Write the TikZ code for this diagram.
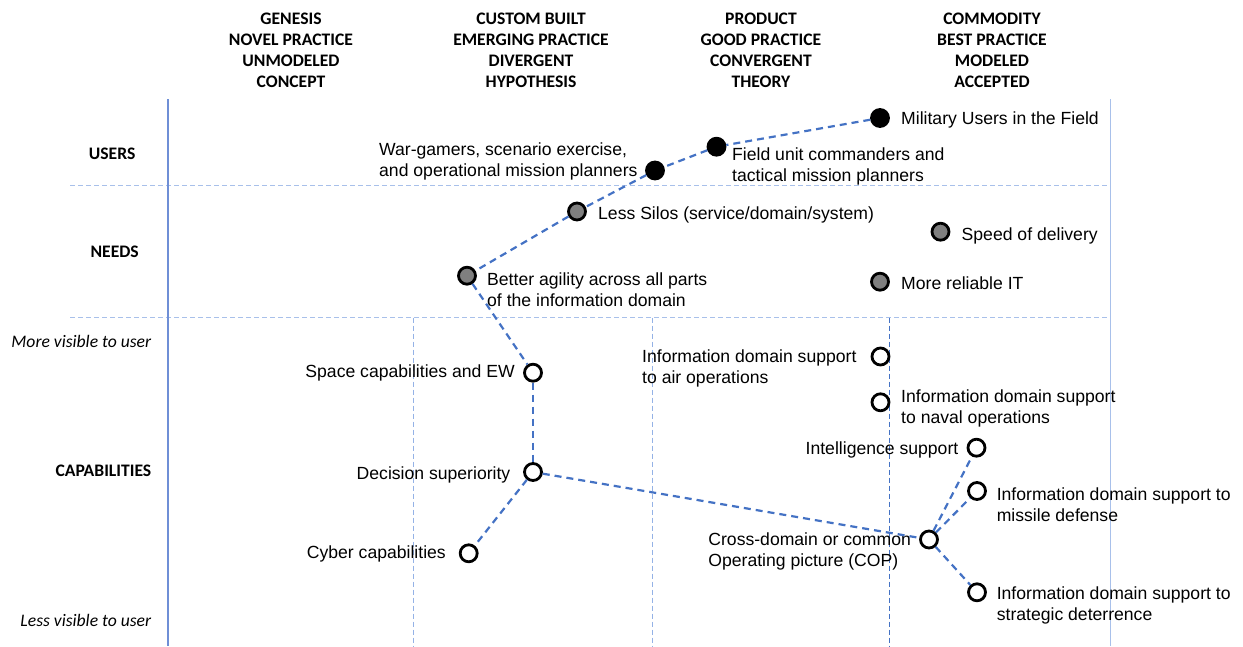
\documentclass[tikz,border=0pt]{standalone}
\usepackage{fontspec}
\setmainfont{Liberation Sans}
\newfontfamily\hdrfont{Carlito}
\definecolor{connblue}{HTML}{4472C4}
\definecolor{axisblue}{HTML}{6F8FD6}
\definecolor{lightblue}{HTML}{A8C0EA}
\definecolor{midblue}{HTML}{94B2E6}
\definecolor{needgray}{HTML}{7F7F7F}
\begin{document}
\begin{tikzpicture}[x=1pt,y=-1pt,
  lbl/.style={inner sep=0pt, font=\fontsize{17.6}{21.3}\selectfont, align=left},
  hdr/.style={inner sep=0pt, font=\hdrfont\bfseries\fontsize{17.6}{21.2}\selectfont, align=center, anchor=north},
  rowlbl/.style={inner sep=0pt, font=\hdrfont\bfseries\fontsize{17.6}{21.2}\selectfont},
  vis/.style={inner sep=0pt, font=\hdrfont\itshape\fontsize{17.6}{21.2}\selectfont, anchor=base east},
  dot/.style={circle, draw=black, line width=2.8pt, minimum size=17pt, inner sep=0pt},
  user/.style={dot, fill=black},
  need/.style={dot, fill=needgray},
  capab/.style={dot, fill=white},
  conn/.style={draw=connblue, line width=2.2pt, dash pattern=on 7pt off 5pt},
  hgrid/.style={draw=lightblue, line width=1.1pt, dash pattern=on 5pt off 3pt},
  vgrid/.style={draw=midblue, line width=1.1pt, dash pattern=on 5pt off 3pt},
  vgriddark/.style={draw=connblue, line width=1pt, dash pattern=on 5pt off 3pt}]
\useasboundingbox (0,0) rectangle (1243,646);

% grid lines
\coordinate (axT) at (168,99);
\coordinate (axB) at (168,646);
\coordinate (rbT) at (1110,99);
\coordinate (rbB) at (1110,646);
\coordinate (h1L) at (70,185.7);
\coordinate (h1R) at (1110,185.7);
\coordinate (h2L) at (70,317.7);
\coordinate (h2R) at (1110,317.7);
\coordinate (v1T) at (413.5,317.7);
\coordinate (v1B) at (413.5,646);
\coordinate (v2T) at (652.8,317.7);
\coordinate (v2B) at (652.8,646);
\coordinate (v3T) at (889.5,317.7);
\coordinate (v3B) at (889.5,646);
\draw[hgrid] (h1L) -- (h1R);
\draw[hgrid] (h2L) -- (h2R);
\draw[vgrid] (v1T) -- (v1B);
\draw[vgrid] (v2T) -- (v2B);
\draw[vgriddark] (v3T) -- (v3B);
\draw[draw=axisblue, line width=1.2pt] (axT) -- (axB);
\draw[draw=lightblue, line width=1pt] (rbT) -- (rbB);

% headers
\node[hdr] (hd1) at (291,12.6) {GENESIS\\NOVEL PRACTICE\\UNMODELED\\CONCEPT};
\node[hdr] (hd2) at (531,12.6) {CUSTOM BUILT\\EMERGING PRACTICE\\DIVERGENT\\HYPOTHESIS};
\node[hdr] (hd3) at (761,12.6) {PRODUCT\\GOOD PRACTICE\\CONVERGENT\\THEORY};
\node[hdr] (hd4) at (992,12.6) {COMMODITY\\BEST PRACTICE\\MODELED\\ACCEPTED};

% row labels
\node[rowlbl, anchor=base] (rusers) at (112.1,159) {USERS};
\node[rowlbl, anchor=base] (rneeds) at (114.7,257.4) {NEEDS};
\node[rowlbl, anchor=base east] (rcaps) at (151.4,476.7) {CAPABILITIES};
\node[vis] (more) at (151.4,347.5) {More visible to user};
\node[vis] (less) at (151.4,626.2) {Less visible to user};

% users
\node[user] (mil) at (880,118) {};
\node[user] (fld) at (716.5,146.7) {};
\node[user] (war) at (655,170.5) {};
% needs
\node[need] (sil) at (577,211.5) {};
\node[need] (spd) at (940.5,231.7) {};
\node[need] (agi) at (467,275.7) {};
\node[need] (rel) at (880,281.7) {};
% capabilities
\node[capab] (air) at (880.5,356.5) {};
\node[capab] (spc) at (533,372.7) {};
\node[capab] (nav) at (880.5,402.3) {};
\node[capab] (intl) at (976.5,447.7) {};
\node[capab] (dec) at (533,472) {};
\node[capab] (mis) at (977,491) {};
\node[capab] (cyb) at (468.7,553.3) {};
\node[capab] (cop) at (929,539.5) {};
\node[capab] (str) at (977,592.3) {};

% labels
\node[lbl, anchor=north west] (lmil) at (901,111.4) {Military Users in the Field};
\node[lbl, anchor=north west] (lfld) at (732,147.4) {Field unit commanders and\\tactical mission planners};
\node[lbl, anchor=north west] (lwar) at (379,142.7) {War-gamers, scenario exercise,\\and operational mission planners};
\node[lbl, anchor=north west] (lsil) at (598,206.6) {Less Silos (service/domain/system)};
\node[lbl, anchor=north west] (lspd) at (961.5,227.4) {Speed of delivery};
\node[lbl, anchor=north west] (lagi) at (487,272.7) {Better agility across all parts\\of the information domain};
\node[lbl, anchor=north west] (lrel) at (901,276.1) {More reliable IT};
\node[lbl, anchor=north west] (lair) at (642,349.4) {Information domain support\\to air operations};
\node[lbl, anchor=north east] (lspc) at (515,364.4) {Space capabilities and EW};
\node[lbl, anchor=north west] (lnav) at (901,389.4) {Information domain support\\to naval operations};
\node[lbl, anchor=north east] (lintl) at (958.5,441.7) {Intelligence support};
\node[lbl, anchor=north east] (ldec) at (510.5,466.7) {Decision superiority};
\node[lbl, anchor=north west] (lmis) at (996.6,487.4) {Information domain support to\\missile defense};
\node[lbl, anchor=north east] (lcyb) at (446,545.1) {Cyber capabilities};
\node[lbl, anchor=north west] (lcop) at (708.2,532.7) {Cross-domain or common\\Operating picture (COP)};
\node[lbl, anchor=north west] (lstr) at (996.6,586.7) {Information domain support to\\strategic deterrence};

% connectors
\draw[conn] (mil) -- (fld);
\draw[conn] (fld) -- (war);
\draw[conn] (war) -- (sil);
\draw[conn] (sil) -- (agi);
\draw[conn] (agi) -- (spc);
\draw[conn] (spc) -- (dec);
\draw[conn] (dec) -- (cyb);
\draw[conn] (dec) -- (cop);
\draw[conn] (cop) -- (intl);
\draw[conn] (cop) -- (mis);
\draw[conn] (cop) -- (str);
\end{tikzpicture}
\end{document}
